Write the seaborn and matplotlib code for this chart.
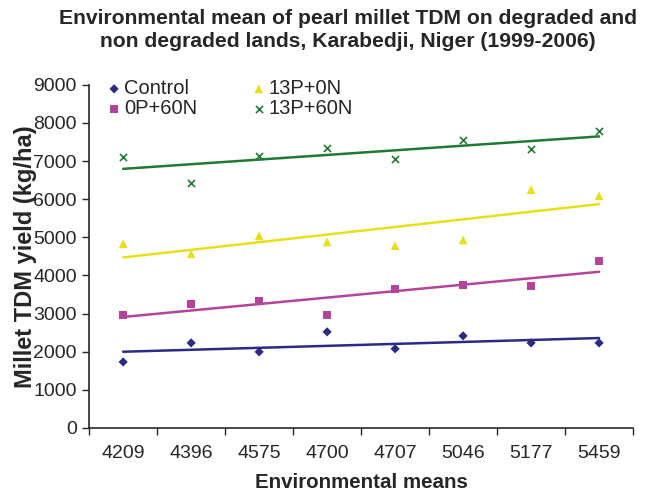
import numpy as np
import pandas as pd
import matplotlib
matplotlib.use("Agg")
import matplotlib.pyplot as plt
import seaborn as sns

env_means = ["4209", "4396", "4575", "4700", "4707", "5046", "5177", "5459"]
control = [1730, 2230, 1995, 2520, 2075, 2415, 2230, 2230]
p13_n0 = [4830, 4570, 5040, 4880, 4780, 4930, 6250, 6090]
p0_n60 = [2965, 3255, 3330, 2965, 3650, 3750, 3730, 4380]
p13_n60 = [7110, 6430, 7140, 7350, 7060, 7560, 7320, 7795]

series = ["Control", "13P+0N", "0P+60N", "13P+60N"]
values = [control, p13_n0, p0_n60, p13_n60]

sns.set_style("ticks")
plt.rcParams["font.family"] = ["Liberation Sans", "DejaVu Sans"]

colors = {"Control": "#2b2a85", "13P+0N": "#e8df1c", "0P+60N": "#b4449b", "13P+60N": "#1f7a32"}
markers = {"Control": "D", "13P+0N": "^", "0P+60N": "s", "13P+60N": "x"}
msize = {"Control": 22, "13P+0N": 40, "0P+60N": 36, "13P+60N": 26}

fig = plt.figure(figsize=(6.46, 4.93), dpi=100)
ax = fig.add_axes([0.138, 0.132, 0.842, 0.696])

idx = np.arange(len(env_means))
for name, vals in zip(series, values):
    df = pd.DataFrame({"x": idx, "y": vals})
    sns.regplot(data=df, x="x", y="y", ax=ax, scatter=False, ci=None, truncate=True,
                color=colors[name], line_kws={"linewidth": 1.8})
    kw = dict(linewidths=1.2) if markers[name] == "x" else dict(edgecolor="none")
    sns.scatterplot(data=df, x="x", y="y", ax=ax, marker=markers[name], s=msize[name],
                    color=colors[name], label=name, zorder=3, **kw)

ax.set_xlim(-0.5, 7.5)
ax.set_ylim(0, 9000)
ax.set_yticks(np.arange(0, 9001, 1000))
ax.set_xticks(np.arange(-0.5, 8, 1))
ax.set_xticklabels([""] * 9)
ax.set_xticks(idx, minor=True)
ax.set_xticklabels(env_means, minor=True)
ax.tick_params(axis="x", which="minor", length=0, labelsize=14, pad=12)
ax.tick_params(axis="x", which="major", length=5, width=1, direction="out")
ax.tick_params(axis="y", length=5, width=1, labelsize=14, pad=4)
sns.despine(ax=ax)
for s in ["left", "bottom"]:
    ax.spines[s].set_linewidth(1.2)

ax.set_xlabel("Environmental means", fontsize=14.8, fontweight="bold", labelpad=8)
ax.set_ylabel("Millet TDM yield (kg/ha)", fontsize=17, fontweight="bold", labelpad=-3)
fig.suptitle("Environmental mean of pearl millet TDM on degraded and\nnon degraded lands, Karabedji, Niger (1999-2006)",
             fontsize=15.2, fontweight="bold", x=0.539, y=0.982, linespacing=1.3)

h, l = ax.get_legend_handles_labels()
order = [0, 2, 1, 3]
ax.legend([h[i] for i in order], [l[i] for i in order], ncol=2, frameon=False,
          loc="upper left", bbox_to_anchor=(0.02, 1.04), fontsize=14.5,
          handlelength=0.6, handletextpad=0.2, columnspacing=2.75, labelspacing=0.05,
          borderaxespad=0.0)

fig.savefig("out.png", dpi=100)
